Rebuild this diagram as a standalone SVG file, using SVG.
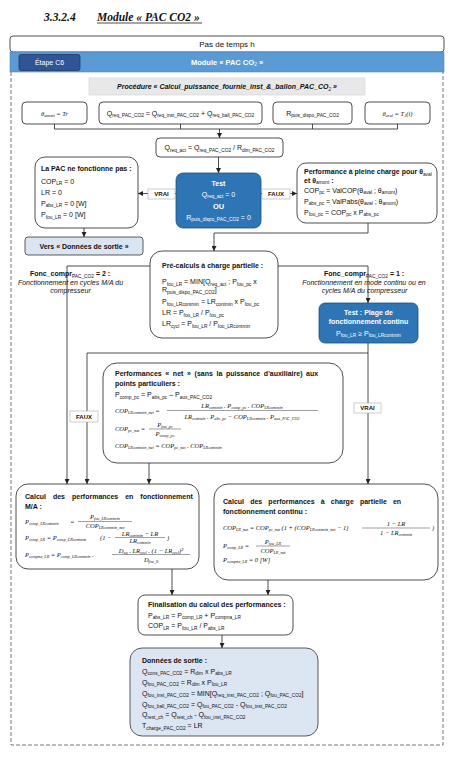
<svg xmlns="http://www.w3.org/2000/svg" width="454" height="758" viewBox="0 0 454 758">
<defs>
<marker id="ah" viewBox="0 0 6 6" refX="6" refY="3" markerWidth="5" markerHeight="5" markerUnits="userSpaceOnUse" orient="auto"><path d="M0,0 L6,3 L0,6 z" fill="#222"/></marker>
</defs>
<style>
text{font-family:"Liberation Sans",Arial,sans-serif;font-size:7px;fill:#111}
.b{font-weight:bold}
.w{fill:#fff}
.c{text-anchor:middle}
.s{font-size:4.8px;font-weight:normal}
.i{font-style:italic}
.m{font-family:"Liberation Serif","Times New Roman",serif;font-style:italic;font-size:6.5px}
.ms{font-size:4.2px}
.box{fill:#fff;stroke:#222;stroke-width:0.8}
.blue{fill:#2e75b6;stroke:#1f4e79;stroke-width:0.8}
.lbl{fill:#fff;stroke:#aaa;stroke-width:0.6}
.ln{fill:none;stroke:#222;stroke-width:0.8}
.ar{fill:none;stroke:#222;stroke-width:0.8;marker-end:url(#ah)}
.fr{stroke:#777;stroke-width:0.7}
.ttl{font-family:"Liberation Serif","Times New Roman",serif;font-weight:bold;font-style:italic;font-size:11.5px}
</style>

<g id="title">
<text class="ttl" x="44" y="21">3.3.2.4</text>
<text class="ttl" x="97" y="21">Module « PAC CO2 »</text>
<line x1="97" y1="23" x2="202" y2="23" stroke="#000" stroke-width="0.7"/>
</g>

<g id="pas-de-temps">
<rect x="10" y="36" width="434" height="16" rx="3" class="box"/>
<text class="c" x="227" y="47" style="font-size:8px">Pas de temps h</text>
</g>

<g id="module-band">
<rect x="10" y="52" width="434" height="20" fill="#5b9bd5" stroke="#4a86c0" stroke-width="0.6"/>
<text class="c b w" x="227" y="64.5" style="font-size:7.5px">Module « PAC CO<tspan class="s w" dy="1.5">2</tspan><tspan dy="-1.5"> »</tspan></text>
</g>

<g id="etape">
<rect x="19" y="54.5" width="61" height="16" rx="2" fill="#2f5597" stroke="#1f3864" stroke-width="0.8"/>
<text class="c w" x="49.5" y="65">Étape C6</text>
</g>

<g id="frame">
<path d="M11,72 V745 H443 V72" fill="none" stroke="#555" stroke-width="0.8" stroke-dasharray="4,2"/>
</g>

<g id="procedure">
<rect x="89" y="78" width="276" height="17" fill="#e8e8e8" stroke="#d4d4d4" stroke-width="0.6"/>
<text class="c b i" x="227" y="89">Procédure « Calcul_puissance_fournie_inst_&amp;_ballon_PAC_CO<tspan class="s" dy="1.5">2</tspan><tspan dy="-1.5"> »</tspan></text>
</g>

<g id="in-theta-amont">
<rect x="22" y="102" width="65" height="22" rx="4" class="box"/>
<text class="m c" x="54.5" y="116">θ<tspan class="ms" dy="1.4">amont</tspan><tspan dy="-1.4">   = Tr</tspan></text>
</g>
<g id="in-qreq">
<rect x="99" y="102" width="163" height="22" rx="4" class="box"/>
<text class="c" x="180.5" y="115.5">Q<tspan class="s" dy="1.6">req_PAC_CO2</tspan><tspan dy="-1.6"> = Q</tspan><tspan class="s" dy="1.6">req_inst_PAC_CO2</tspan><tspan dy="-1.6"> + Q</tspan><tspan class="s" dy="1.6">req_ball_PAC_CO2</tspan></text>
</g>
<g id="in-rpuis">
<rect x="273" y="102" width="79" height="22" rx="4" class="box"/>
<text class="c" x="312.5" y="115.5">R<tspan class="s" dy="1.6">puis_dispo_PAC_CO2</tspan></text>
</g>
<g id="in-theta-aval">
<rect x="365" y="102" width="65" height="22" rx="4" class="box"/>
<text class="m c" x="397.5" y="116">θ<tspan class="ms" dy="1.4">aval</tspan><tspan dy="-1.4">   = T</tspan><tspan class="ms" dy="1.4">1</tspan><tspan dy="-1.4">(i)</tspan></text>
</g>

<g id="qreq-act">
<rect x="156" y="138" width="127" height="19" rx="4" class="box"/>
<text class="c" x="219.5" y="150">Q<tspan class="s" dy="1.6">req_act</tspan><tspan dy="-1.6"> = Q</tspan><tspan class="s" dy="1.6">req_PAC_CO2</tspan><tspan dy="-1.6"> / R</tspan><tspan class="s" dy="1.6">dim_PAC_CO2</tspan></text>
</g>

<g id="test1">
<rect x="176" y="173" width="85" height="55" rx="7" class="blue"/>
<text class="b w c" x="218.5" y="186">Test</text>
<text class="w c" x="218.5" y="196.5">Q<tspan class="s w" dy="1.6">req_act</tspan><tspan dy="-1.6"> = 0</tspan></text>
<text class="b w c" x="218.5" y="209" style="font-size:7.5px">OU</text>
<text class="w c" x="218.5" y="219.5">R<tspan class="s w" dy="1.6">puis_dispo_PAC_CO2</tspan><tspan dy="-1.6"> = 0</tspan></text>
</g>

<g id="pac-off">
<rect x="35" y="157" width="103" height="71" rx="10" class="box"/>
<text class="b" x="41" y="171">La PAC ne fonctionne pas :</text>
<text x="41" y="183.5">COP<tspan class="s" dy="1.6">LR</tspan><tspan dy="-1.6"> = 0</tspan></text>
<text x="41" y="194.5">LR = 0</text>
<text x="41" y="205.5">P<tspan class="s" dy="1.6">abs_LR</tspan><tspan dy="-1.6"> = 0 [W]</tspan></text>
<text x="41" y="217">P<tspan class="s" dy="1.6">fou_LR</tspan><tspan dy="-1.6"> = 0 [W]</tspan></text>
</g>

<g id="vers-sortie">
<rect x="25" y="237" width="118" height="18" rx="3" fill="#dbe5f1" stroke="#333" stroke-width="0.8"/>
<text class="b c" x="84" y="248.5">Vers « Données de sortie »</text>
</g>

<g id="perf-pc">
<rect x="297" y="163" width="140" height="60" rx="9" class="box"/>
<text class="b" x="304" y="174">Performance à pleine charge pour θ<tspan class="s" dy="1.6">aval</tspan></text>
<text class="b" x="304" y="182.5">et θ<tspan class="s" dy="1.6">amont</tspan><tspan dy="-1.6"> :</tspan></text>
<text x="304" y="192.5">COP<tspan class="s" dy="1.6">pc</tspan><tspan dy="-1.6"> = ValCOP(θ</tspan><tspan class="s" dy="1.6">aval</tspan><tspan dy="-1.6"> ; θ</tspan><tspan class="s" dy="1.6">amont</tspan><tspan dy="-1.6">)</tspan></text>
<text x="304" y="203.5">P<tspan class="s" dy="1.6">abs_pc</tspan><tspan dy="-1.6"> = ValPabs(θ</tspan><tspan class="s" dy="1.6">aval</tspan><tspan dy="-1.6"> ; θ</tspan><tspan class="s" dy="1.6">amont</tspan><tspan dy="-1.6">)</tspan></text>
<text x="304" y="214.5">P<tspan class="s" dy="1.6">fou_pc</tspan><tspan dy="-1.6"> = COP</tspan><tspan class="s" dy="1.6">pc</tspan><tspan dy="-1.6"> x P</tspan><tspan class="s" dy="1.6">abs_pc</tspan></text>
</g>

<g id="precalc">
<rect x="150" y="251" width="128" height="87" rx="12" class="box"/>
<text class="b" x="162" y="267.5">Pré-calculs à charge partielle :</text>
<text x="162" y="284">P<tspan class="s" dy="1.6">fou_LR</tspan><tspan dy="-1.6"> = MIN[Q</tspan><tspan class="s" dy="1.6">req_act</tspan><tspan dy="-1.6"> ; P</tspan><tspan class="s" dy="1.6">fou_pc</tspan><tspan dy="-1.6"> x</tspan></text>
<text x="162" y="292">R<tspan class="s" dy="1.6">puis_dispo_PAC_CO2</tspan><tspan dy="-1.6">]</tspan></text>
<text x="162" y="304">P<tspan class="s" dy="1.6">fou_LRcontmin</tspan><tspan dy="-1.6"> = LR</tspan><tspan class="s" dy="1.6">contmin</tspan><tspan dy="-1.6"> x P</tspan><tspan class="s" dy="1.6">fou_pc</tspan></text>
<text x="162" y="315">LR = P<tspan class="s" dy="1.6">fou_LR</tspan><tspan dy="-1.6"> / P</tspan><tspan class="s" dy="1.6">fou_pc</tspan></text>
<text x="162" y="326">LR<tspan class="s" dy="1.6">cycl</tspan><tspan dy="-1.6"> = P</tspan><tspan class="s" dy="1.6">fou_LR</tspan><tspan dy="-1.6"> / P</tspan><tspan class="s" dy="1.6">fou_LRcontmin</tspan></text>
</g>

<g id="test2">
<rect x="319" y="303" width="99" height="40" rx="6" class="blue"/>
<text class="b w c" x="368.5" y="315">Test : Plage de</text>
<text class="b w c" x="368.5" y="324">fonctionnement continu</text>
<text class="w c" x="368.5" y="335.5">P<tspan class="s w" dy="1.6">fou_LR</tspan><tspan dy="-1.6"> ≥ P</tspan><tspan class="s w" dy="1.6">fou_LRcontmin</tspan></text>
</g>

<g id="perf-net">
<rect x="103" y="363" width="240" height="100" rx="14" class="box"/>
<text class="b" x="115" y="376" style="word-spacing:1.7px">Performances « net » (sans la puissance d'auxiliaire) aux</text>
<text class="b" x="115" y="385.5">points particuliers :</text>
<text x="115" y="397">P<tspan class="s" dy="1.6">comp_pc</tspan><tspan dy="-1.6"> = P</tspan><tspan class="s" dy="1.6">abs_pc</tspan><tspan dy="-1.6"> – P</tspan><tspan class="s" dy="1.6">aux_PAC_CO2</tspan></text>
<text class="m" x="115" y="413">COP<tspan class="ms" dy="1.4">LRcontmin_net</tspan><tspan dy="-1.4">  =</tspan></text>
<line class="fr" x1="167" y1="410.5" x2="318" y2="410.5"/>
<text class="m c" x="242" y="408">LR<tspan class="ms" dy="1.4">contmin</tspan><tspan dy="-1.4"> . P</tspan><tspan class="ms" dy="1.4">comp_pc</tspan><tspan dy="-1.4"> . COP</tspan><tspan class="ms" dy="1.4">LRcontmin</tspan></text>
<text class="m c" x="242" y="418.5">LR<tspan class="ms" dy="1.4">contmin</tspan><tspan dy="-1.4"> . P</tspan><tspan class="ms" dy="1.4">abs_pc</tspan><tspan dy="-1.4"> − COP</tspan><tspan class="ms" dy="1.4">LRcontmin</tspan><tspan dy="-1.4"> . P</tspan><tspan class="ms" dy="1.4">aux_PAC_CO2</tspan></text>
<text class="m" x="115" y="431">COP<tspan class="ms" dy="1.4">pc_net</tspan><tspan dy="-1.4">  =</tspan></text>
<line class="fr" x1="149" y1="429" x2="181" y2="429"/>
<text class="m c" x="165" y="427">P<tspan class="ms" dy="1.4">fou_pc</tspan></text>
<text class="m c" x="165" y="436">P<tspan class="ms" dy="1.4">comp_pc</tspan></text>
<text class="m" x="115" y="448">COP<tspan class="ms" dy="1.4">LRcontmin_net</tspan><tspan dy="-1.4"> = COP</tspan><tspan class="ms" dy="1.4">pc_net</tspan><tspan dy="-1.4"> . COP</tspan><tspan class="ms" dy="1.4">LRcontmin</tspan></text>
</g>

<g id="calc-ma">
<rect x="16" y="484" width="183" height="85" rx="12" class="box"/>
<text class="b" x="25" y="498.5" style="word-spacing:5px">Calcul des performances en fonctionnement</text>
<text class="b" x="25" y="508.5">M/A :</text>
<text class="m" x="25" y="524">P<tspan class="ms" dy="1.4">comp_LRcontmin</tspan></text>
<text class="m" x="70" y="524">=</text>
<line class="fr" x1="78" y1="521.5" x2="132" y2="521.5"/>
<text class="m c" x="105" y="519">P<tspan class="ms" dy="1.4">fou_LRcontmin</tspan></text>
<text class="m c" x="105" y="528">COP<tspan class="ms" dy="1.4">LRcontmin_net</tspan></text>
<text class="m" x="25" y="539.5">P<tspan class="ms" dy="1.4">comp_LR</tspan><tspan dy="-1.4"> = P</tspan><tspan class="ms" dy="1.4">comp_LRcontmin</tspan></text>
<text class="m" x="100" y="539.5">(1 −</text>
<line class="fr" x1="115" y1="537.5" x2="165" y2="537.5"/>
<text class="m c" x="140" y="535.5">LR<tspan class="ms" dy="1.4">contmin</tspan><tspan dy="-1.4"> − LR</tspan></text>
<text class="m c" x="140" y="543">LR<tspan class="ms" dy="1.4">contmin</tspan></text>
<text class="m" x="167" y="539.5">)</text>
<text class="m" x="25" y="557">P<tspan class="ms" dy="1.4">compna_LR</tspan><tspan dy="-1.4"> = P</tspan><tspan class="ms" dy="1.4">comp_LRcontmin</tspan><tspan dy="-1.4"> .</tspan></text>
<line class="fr" x1="112" y1="554.5" x2="190" y2="554.5"/>
<text class="m c" x="151" y="552.5">D<tspan class="ms" dy="1.4">eq</tspan><tspan dy="-1.4"> . LR</tspan><tspan class="ms" dy="1.4">cycl</tspan><tspan dy="-1.4"> . (1 − LR</tspan><tspan class="ms" dy="1.4">cycl</tspan><tspan dy="-1.4">)²</tspan></text>
<text class="m c" x="151" y="561.5">D<tspan class="ms" dy="1.4">fou_0</tspan></text>
</g>

<g id="calc-continu">
<rect x="214" y="484" width="224" height="96" rx="14" class="box"/>
<text class="b" x="223" y="504" style="word-spacing:4.2px">Calcul des performances à charge partielle en</text>
<text class="b" x="223" y="513.5">fonctionnement continu :</text>
<text class="m" x="223" y="530">COP<tspan class="ms" dy="1.4">LR_net</tspan><tspan dy="-1.4"> = COP</tspan><tspan class="ms" dy="1.4">pc_net</tspan><tspan dy="-1.4"> (1 + (COP</tspan><tspan class="ms" dy="1.4">LRcontmin_net</tspan><tspan dy="-1.4"> − 1)</tspan></text>
<line class="fr" x1="362" y1="528" x2="430" y2="528"/>
<text class="m c" x="396" y="525.5">1 − LR</text>
<text class="m c" x="396" y="534.5">1 − LR<tspan class="ms" dy="1.4">contmin</tspan></text>
<text class="m" x="432" y="530">)</text>
<text class="m" x="223" y="548">P<tspan class="ms" dy="1.4">comp_LR</tspan><tspan dy="-1.4">  =</tspan></text>
<line class="fr" x1="256" y1="546" x2="290" y2="546"/>
<text class="m c" x="273" y="543.5">P<tspan class="ms" dy="1.4">fou_LR</tspan></text>
<text class="m c" x="273" y="553">COP<tspan class="ms" dy="1.4">LR_net</tspan></text>
<text class="m" x="223" y="562">P<tspan class="ms" dy="1.4">compna_LR</tspan><tspan dy="-1.4"> = 0 [W]</tspan></text>
</g>

<g id="finalisation">
<rect x="138" y="595" width="155" height="40" rx="7" class="box"/>
<text class="b" x="148" y="606.5">Finalisation du calcul des performances :</text>
<text x="148" y="617.5">P<tspan class="s" dy="1.6">abs_LR</tspan><tspan dy="-1.6"> = P</tspan><tspan class="s" dy="1.6">comp_LR</tspan><tspan dy="-1.6"> + P</tspan><tspan class="s" dy="1.6">compna_LR</tspan></text>
<text x="148" y="628">COP<tspan class="s" dy="1.6">LR</tspan><tspan dy="-1.6"> = P</tspan><tspan class="s" dy="1.6">fou_LR</tspan><tspan dy="-1.6"> / P</tspan><tspan class="s" dy="1.6">abs_LR</tspan></text>
</g>

<g id="donnees-sortie">
<rect x="130" y="648" width="188" height="88" rx="12" fill="#dce6f2" stroke="#333" stroke-width="0.8"/>
<text class="b" x="142" y="662.5">Données de sortie :</text>
<text x="142" y="673.5">Q<tspan class="s" dy="1.6">cons_PAC_CO2</tspan><tspan dy="-1.6"> = R</tspan><tspan class="s" dy="1.6">dim</tspan><tspan dy="-1.6"> x P</tspan><tspan class="s" dy="1.6">abs_LR</tspan></text>
<text x="142" y="684.5">Q<tspan class="s" dy="1.6">fou_PAC_CO2</tspan><tspan dy="-1.6"> = R</tspan><tspan class="s" dy="1.6">dim</tspan><tspan dy="-1.6"> x P</tspan><tspan class="s" dy="1.6">fou_LR</tspan></text>
<text x="142" y="695.5">Q<tspan class="s" dy="1.6">fou_inst_PAC_CO2</tspan><tspan dy="-1.6"> = MIN[Q</tspan><tspan class="s" dy="1.6">req_inst_PAC_CO2</tspan><tspan dy="-1.6"> ; Q</tspan><tspan class="s" dy="1.6">fou_PAC_CO2</tspan><tspan dy="-1.6">]</tspan></text>
<text x="142" y="706.5">Q<tspan class="s" dy="1.6">fou_ball_PAC_CO2</tspan><tspan dy="-1.6"> = Q</tspan><tspan class="s" dy="1.6">fou_PAC_CO2</tspan><tspan dy="-1.6"> - Q</tspan><tspan class="s" dy="1.6">fou_inst_PAC_CO2</tspan></text>
<text x="142" y="717">Q<tspan class="s" dy="1.6">rest_ch</tspan><tspan dy="-1.6"> = Q</tspan><tspan class="s" dy="1.6">rest_ch</tspan><tspan dy="-1.6"> - Q</tspan><tspan class="s" dy="1.6">fou_inst_PAC_CO2</tspan></text>
<text x="142" y="728">T<tspan class="s" dy="1.6">charge_PAC_CO2</tspan><tspan dy="-1.6"> = LR</tspan></text>
</g>

<g id="connectors">
<path class="ln" d="M54.5,124 V129 M180.5,124 V129 M312.5,124 V129 M397.5,124 V129 M54.5,129 H397.5"/>
<path class="ar" d="M219.5,129 V138"/>
<path class="ar" d="M218.5,157 V173"/>
<path class="ar" d="M176,193.5 H138"/>
<path class="ar" d="M261,193.5 H297"/>
<path class="ar" d="M84,228 V237"/>
<path class="ar" d="M368,223 V233 H214 V251"/>
<path class="ar" d="M150,266 H67 V484"/>
<path class="ar" d="M278,266 H368 V303"/>
<path class="ar" d="M368,343 V484"/>
<path class="ar" d="M368,353 H87 V484"/>
<path class="ar" d="M149,463 V484"/>
<path class="ar" d="M172,569 V595"/>
<path class="ar" d="M268,580 V595"/>
<path class="ar" d="M222,635 V648"/>
<rect x="148" y="189" width="27" height="10" class="lbl"/>
<text class="b c" x="161.5" y="196.3" style="font-size:6px">VRAI</text>
<rect x="262" y="189" width="28" height="10" class="lbl"/>
<text class="b c" x="276" y="196.3" style="font-size:6px">FAUX</text>
<rect x="70" y="411" width="28" height="11" class="lbl"/>
<text class="b c" x="84" y="418.8" style="font-size:6px">FAUX</text>
<rect x="354" y="403" width="27" height="10" class="lbl"/>
<text class="b c" x="367.5" y="410.3" style="font-size:6px">VRAI</text>
<text class="b c" x="70" y="276"><tspan>Fonc_compr</tspan><tspan class="s" dy="1.6">PAC_CO2</tspan><tspan dy="-1.6"> = 2 :</tspan></text>
<text class="i c" x="70.5" y="284.5">Fonctionnement en cycles M/A du</text>
<text class="i c" x="70.5" y="292.5">compresseur</text>
<text class="b c" x="364" y="276"><tspan>Fonc_compr</tspan><tspan class="s" dy="1.6">PAC_CO2</tspan><tspan dy="-1.6"> = 1 :</tspan></text>
<text class="i c" x="364" y="284.5">Fonctionnement en mode continu ou en</text>
<text class="i c" x="364.5" y="292.5">cycles M/A du compresseur</text>
</g>
</svg>
